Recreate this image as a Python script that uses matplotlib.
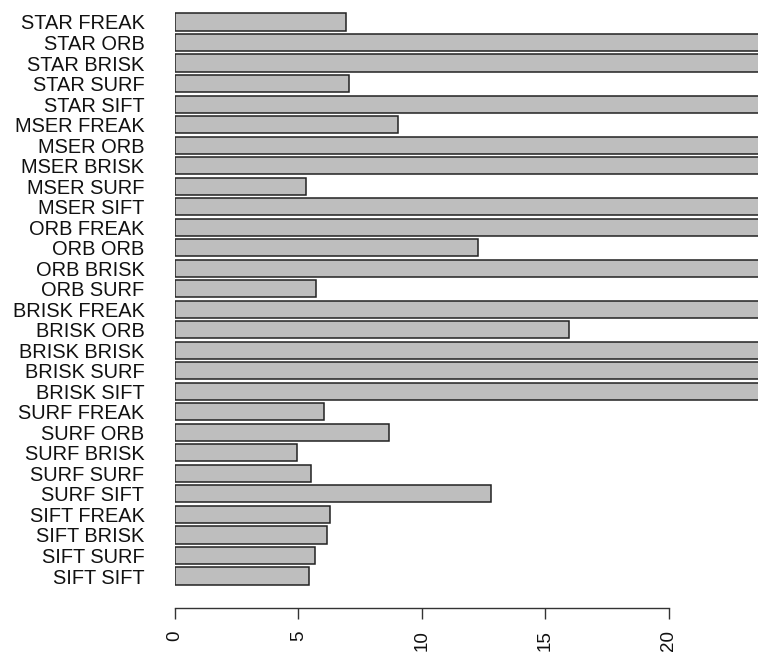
import matplotlib
matplotlib.use("Agg")
import matplotlib.pyplot as plt
import numpy as np

labels = ["STAR FREAK", "STAR ORB", "STAR BRISK", "STAR SURF", "STAR SIFT",
          "MSER FREAK", "MSER ORB", "MSER BRISK", "MSER SURF", "MSER SIFT",
          "ORB FREAK", "ORB ORB", "ORB BRISK", "ORB SURF",
          "BRISK FREAK", "BRISK ORB", "BRISK BRISK", "BRISK SURF", "BRISK SIFT",
          "SURF FREAK", "SURF ORB", "SURF BRISK", "SURF SURF", "SURF SIFT",
          "SIFT FREAK", "SIFT BRISK", "SIFT SURF", "SIFT SIFT"]
values = [6.93, 30.0, 30.0, 7.06, 30.0,
          9.04, 30.0, 30.0, 5.31, 30.0,
          30.0, 12.28, 30.0, 5.71,
          30.0, 15.96, 30.0, 30.0, 30.0,
          6.03, 8.68, 4.93, 5.52, 12.81,
          6.28, 6.14, 5.68, 5.44]
xticks = [0, 5, 10, 15, 20]

plt.rcParams['font.family'] = ['Liberation Sans', 'DejaVu Sans']

W, H = 758, 654
fig = plt.figure(figsize=(W / 100, H / 100), dpi=100)
ax_bottom_px = 608
ax = fig.add_axes([175 / W, (H - ax_bottom_px) / H, 1 - 175 / W, ax_bottom_px / H])

n = len(labels)
# R barplot style: bottom-up positions with width 1 and space 0.2
pos = 0.7 + 1.2 * np.arange(n)
vals_bottom_up = values[::-1]
labs_bottom_up = labels[::-1]
ax.barh(pos, vals_bottom_up, height=1.0, color='#BEBEBE',
        edgecolor='#222222', linewidth=1.1, clip_on=True)

ax.set_xlim(0, (W - 175) / 24.69)
px_per_unit = 17.1
ax.set_ylim(0.7 - (ax_bottom_px - 576) / px_per_unit, 33.1 + 22 / px_per_unit)

ax.set_yticks(pos)
ax.set_yticklabels(labs_bottom_up, fontsize=14.4, color='#111111')
ax.tick_params(axis='y', length=0, pad=22)

ax.set_xticks(xticks)
ax.set_xticklabels([str(t) for t in xticks], rotation=90, fontsize=13.5,
                   color='#111111', va='top')
ax.tick_params(axis='x', length=8, width=1, color='#333333', pad=8)

for s in ['top', 'right', 'left']:
    ax.spines[s].set_visible(False)
ax.spines['bottom'].set_bounds(0, 20)
ax.spines['bottom'].set_color('#333333')
ax.spines['bottom'].set_linewidth(1)

fig.savefig("out.png", dpi=100)
